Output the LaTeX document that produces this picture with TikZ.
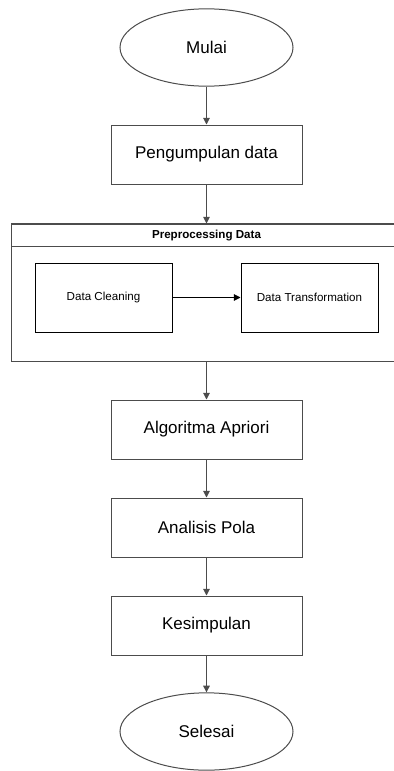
\documentclass[tikz,border=0pt]{standalone}
\usepackage{fontspec}
\setmainfont{Liberation Sans}
\usepackage{tikz}
\usetikzlibrary{graphs,arrows.meta,shapes.geometric}
\tikzset{
    langkah/.style={
        draw=black!70,
        line width=0.75pt,
        minimum width=143.25pt,
        minimum height=44.25pt,
        font=\fontsize{12.75}{15}\selectfont,
    },
    terminal/.style={
        draw=black!70,
        line width=0.75pt,
        ellipse,
        minimum width=129.75pt,
        minimum height=58pt,
        font=\fontsize{12.75}{15}\selectfont,
    },
    subproses/.style={
        draw=black,
        line width=0.75pt,
        minimum width=102.75pt,
        minimum height=51.75pt,
        font=\fontsize{8.7}{10}\selectfont,
    },
    wadah/.style={
        draw=black!70,
        line width=0.75pt,
        minimum width=292.5pt,
        minimum height=102.75pt,
    },
    judul wadah/.style={
        draw=black!70,
        line width=0.75pt,
        minimum width=292.5pt,
        minimum height=16.9pt,
        font=\bfseries\fontsize{8.7}{10}\selectfont,
    },
}

\begin{document}
\begin{tikzpicture}[x=0.75pt, y=-0.75pt, >={Triangle[width=5pt,length=5pt]}]
            \useasboundingbox (0,0) rectangle (393,771);

            \node[terminal] at (206.5, 47.5) (mulai) {Mulai} ;
            \node[langkah] at (206.5, 154.5) (kumpul) {Pengumpulan data} ;
            \node[wadah] at (206.5, 292.5) (prepro) {} ;
            \node[judul wadah] at (206.5, 235.25) (judul) {Preprocessing Data} ;
            \node[subproses] at (103.5, 297.5) (cleaning) {Data Cleaning} ;
            \node[subproses] at (309.5, 297.5) (transform) {Data Transformation} ;
            \node[langkah] at (206.5, 429.5) (apriori) {Algoritma Apriori} ;
            \node[langkah] at (206.5, 527.5) (analisis) {Analisis Pola} ;
            \node[langkah] at (206.5, 625.5) (simpul) {Kesimpulan} ;
            \node[terminal] at (206.5, 731.5) (selesai) {Selesai} ;

            \graph[use existing nodes, edges={draw=black!70, line width=0.75pt}]{
                mulai -> kumpul -> judul ;
                prepro -> apriori -> analisis -> simpul -> selesai ;
            } ;
            \graph[use existing nodes, edges={draw=black, line width=0.75pt}]{
                cleaning -> transform ;
            } ;
        \end{tikzpicture}
\end{document}
